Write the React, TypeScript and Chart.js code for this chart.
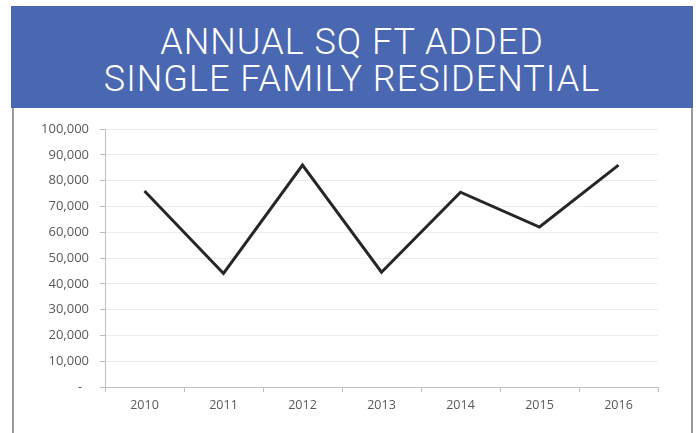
import React, { useEffect, useRef } from "react";
import { Chart, registerables } from "chart.js";

Chart.register(...registerables);

const titleLines = ["ANNUAL SQ FT ADDED", "SINGLE FAMILY RESIDENTIAL"];
const years = ["2010", "2011", "2012", "2013", "2014", "2015", "2016"];
const sqFtAdded = [76000, 44000, 86000, 44500, 75500, 62000, 86000];
const yMin = 0;
const yMax = 100000;
const yStep = 10000;

export default function App() {
  const canvasRef = useRef<HTMLCanvasElement | null>(null);

  useEffect(() => {
    if (!canvasRef.current) return;
    const chart = new Chart(canvasRef.current, {
      type: "line",
      data: {
        labels: years,
        datasets: [
          {
            label: "Annual Sq Ft Added",
            data: sqFtAdded,
            borderColor: "#262626",
            borderWidth: 3,
            pointRadius: 0,
            tension: 0,
            fill: false,
          },
        ],
      },
      options: {
        animation: false,
        responsive: false,
        maintainAspectRatio: false,
        layout: { padding: { top: 21, right: 32, left: 0, bottom: 0 } },
        plugins: {
          legend: { display: false },
          title: { display: false },
          tooltip: { enabled: false },
        },
        scales: {
          x: {
            type: "category",
            offset: true,
            grid: {
              offset: true,
              drawOnChartArea: false,
              drawTicks: true,
              tickLength: 5,
              tickColor: "#bfbfbf",
              color: "#bfbfbf",
            },
            border: { display: true, color: "#bfbfbf", width: 1 },
            ticks: {
              color: "#595959",
              font: { family: "'Open Sans', 'Noto Sans', sans-serif", size: 12.5 },
              padding: 6,
              maxRotation: 0,
            },
            afterFit: (axis: any) => {
              axis.height = 46;
            },
          },
          y: {
            min: yMin,
            max: yMax,
            grid: {
              color: "#ededed",
              tickColor: "#bfbfbf",
              tickLength: 5,
              drawTicks: true,
            },
            border: { display: true, color: "#bfbfbf", width: 1 },
            ticks: {
              stepSize: yStep,
              color: "#595959",
              font: { family: "'Open Sans', 'Noto Sans', sans-serif", size: 13 },
              padding: 11,
              callback: (v: any) =>
                Number(v) === 0 ? "-  " : Number(v).toLocaleString("en-US"),
            },
            afterFit: (axis: any) => {
              axis.width = 90;
            },
          },
        },
      },
    });
    return () => chart.destroy();
  }, []);

  return (
    <div
      style={{
        position: "absolute",
        left: 0,
        top: 0,
        width: 696,
        height: 433,
        background: "#ffffff",
        overflow: "hidden",
      }}
    >
      <div
        style={{
          position: "absolute",
          left: 11,
          top: 6,
          width: 682,
          height: 102,
          background: "#4A67B1",
          color: "#ffffff",
          textAlign: "center",
          fontFamily: "'Roboto', sans-serif",
          fontWeight: 300,
          fontSize: 36,
          letterSpacing: "1px",
          lineHeight: "37px",
          paddingTop: 18,
          boxSizing: "border-box",
        }}
      >
        {titleLines.map((t, i) => (
          <div key={i}>{t}</div>
        ))}
      </div>
      <div
        style={{
          position: "absolute",
          left: 12,
          top: 108,
          width: 2,
          height: 325,
          background: "#9a9a9a",
        }}
      />
      <div
        style={{
          position: "absolute",
          left: 691,
          top: 108,
          width: 2,
          height: 325,
          background: "#9a9a9a",
        }}
      />
      <canvas
        ref={canvasRef}
        width={675}
        height={325}
        style={{ position: "absolute", left: 15, top: 108, width: 675, height: 325 }}
      />
    </div>
  );
}
